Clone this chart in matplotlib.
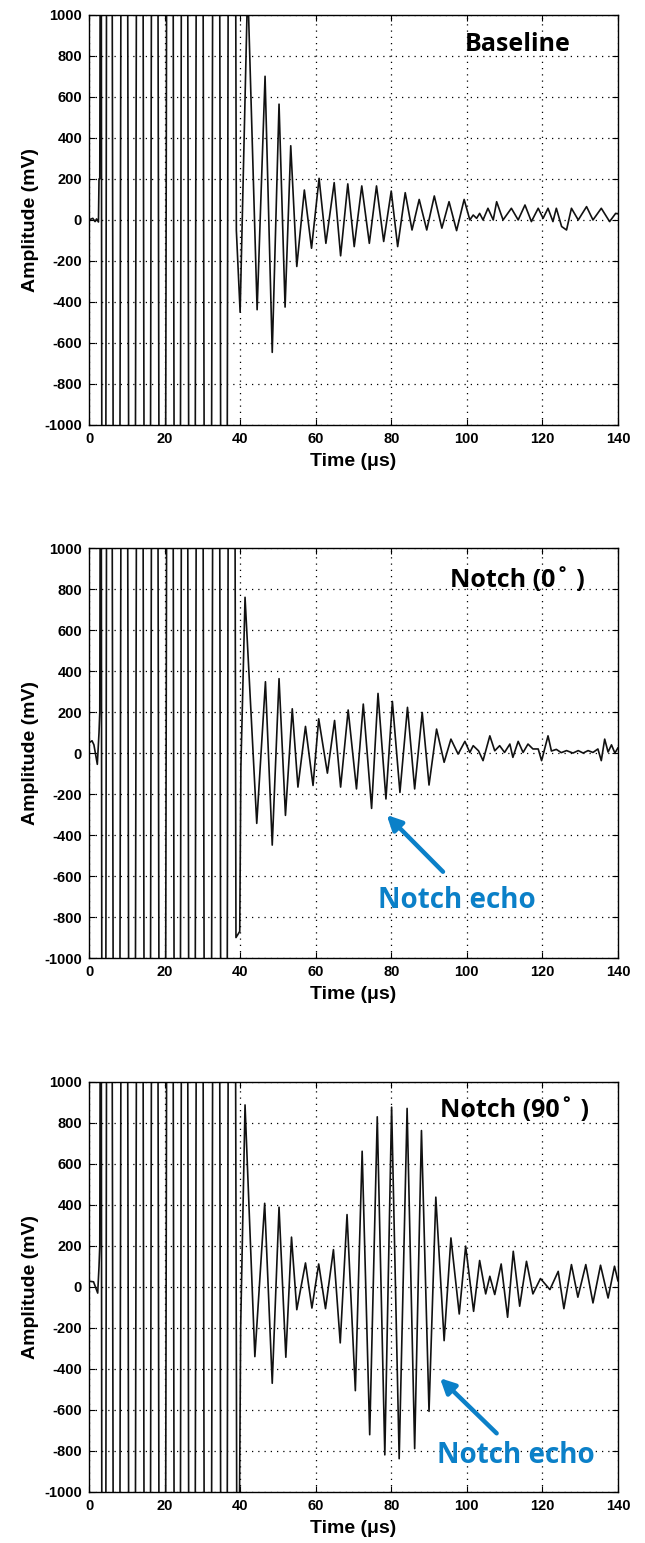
import matplotlib.pyplot as plt

# ---- shared transmit ringing (saturated, runs far past +/-1000 mV) ----
burst_t = [3.15, 3.84, 5.25, 7.28, 9.35, 11.38, 13.45, 15.43, 17.37, 19.4,
           21.43, 23.37, 25.27, 27.25, 29.24, 31.44, 33.73, 35.72, 37.7]
burst_v = [3000, -9000, 9000, -9000, 9000, -9000, 9000, -9000, 9000, -9000,
           9000, -9000, 9000, -9000, 9000, -9000, 9000, -9000, 9000]

# ---- Baseline ----
base_head_t = [0, 1.0, 1.6, 2.0, 2.5, 2.65, 2.85]
base_head_v = [0, 8, -8, 5, -10, 200, 200]
base_tail_t = [39.0, 40.0, 42.0, 44.5, 46.6, 48.5, 50.3, 51.9, 53.4, 55.0,
               57.0, 58.9, 60.9, 62.7, 64.9, 66.6, 68.5, 70.2, 72.2, 74.2,
               76.1, 78.0, 80.0, 81.7, 83.7, 85.5, 87.4, 89.4, 91.4, 93.4,
               95.3, 97.3, 99.3, 100.8, 101.7, 102.6, 103.4, 104.3, 105.6, 107.0,
               107.9, 109.6, 111.8, 113.6, 115.4, 117.1, 118.9, 120.2, 121.5, 122.8,
               123.7, 125.1, 126.4, 127.7, 129.5, 131.7, 133.4, 135.6, 137.8, 139.4,
               140.0]
base_tail_v = [-50, -450, 1150, -438, 701, -646, 565, -425, 362, -227,
               146, -138, 203, -114, 182, -175, 176, -130, 166, -114,
               166, -105, 141, -130, 133, -49, 100, -49, 117, -40,
               89, -52, 100, 0, 24, 8, 32, 0, 57, 0,
               89, 0, 57, 0, 73, -8, 57, 8, 57, -8,
               57, -32, -49, 57, 0, 65, 0, 57, -8, 32,
               30]

# ---- Notch (0 deg) ----
n0_head_t = [0, 0.8, 1.3, 2.2, 2.65, 2.85]
n0_head_v = [50, 60, 40, -55, 100, 200]
n0_tail_t = [38.9, 39.9, 40.2, 41.3, 44.4, 46.7, 48.5, 50.3, 52.0, 53.8,
             55.3, 57.3, 59.3, 60.8, 63.1, 65.0, 66.6, 68.6, 70.8, 72.6,
             74.8, 76.5, 78.6, 80.3, 82.3, 84.3, 86.2, 88.2, 90.0, 92.0,
             94.0, 95.8, 97.7, 99.5, 100.8, 101.7, 103.1, 104.3, 106.1, 107.4,
             108.7, 110.0, 111.4, 112.2, 113.6, 114.9, 116.2, 117.5, 118.9, 119.8,
             121.5, 122.4, 123.7, 125.0, 126.4, 128.1, 129.5, 130.8, 132.1, 133.4,
             134.7, 135.6, 136.5, 137.4, 138.3, 139.2, 140.0]
n0_tail_v = [-900, -870, -70, 760, -343, 348, -449, 363, -304, 216,
             -166, 130, -158, 167, -98, 159, -166, 210, -175, 239,
             -270, 291, -224, 252, -192, 223, -175, 198, -156, 117,
             -45, 68, -5, 57, 3, 36, 11, -37, 84, 11,
             36, 3, 44, -21, 57, 3, 44, 20, 20, -37,
             84, 10, 18, 2, 12, 0, 12, 0, 12, 3,
             20, -37, 68, 5, 40, 0, 25]

# ---- Notch (90 deg) ----
n90_head_t = [0, 1.2, 2.3, 2.65, 2.85]
n90_head_v = [28, 25, -30, 100, 200]
n90_tail_t = [39.3, 40.15, 41.3, 43.9, 46.5, 48.5, 50.3, 52.1, 53.6, 55.0,
              57.3, 59.0, 60.8, 62.6, 64.7, 66.5, 68.3, 70.5, 72.3, 74.3,
              76.3, 78.3, 80.1, 82.1, 84.2, 86.2, 88.0, 90.0, 91.8, 94.0,
              95.8, 98.0, 99.7, 101.8, 103.4, 105.0, 106.1, 107.4, 109.1, 110.8,
              112.3, 114.0, 115.8, 117.5, 119.5, 122.0, 124.2, 125.7, 127.7, 129.4,
              131.5, 133.4, 135.4, 137.4, 139.1, 140.0]
n90_tail_v = [-2500, -190, 888, -340, 408, -470, 389, -343, 243, -111,
              117, -103, 112, -106, 182, -273, 353, -506, 662, -721,
              830, -819, 877, -838, 871, -789, 763, -607, 438, -262,
              239, -132, 199, -119, 129, -34, 52, -37, 112, -148,
              174, -94, 125, -34, 41, -13, 76, -106, 109, -50,
              109, -78, 106, -54, 101, 30]

titles = ['Baseline', 'Notch (0\u02da )', 'Notch (90\u02da )']
title_pos = [(99.5, 858), (95.5, 844), (92.9, 863)]
# arrow (tail, head) and label position for the echo callouts
arrows = [None, ((93.7, -579), (78.8, -302), (76.5, -717)),
          ((107.9, -714), (92.9, -445), (92.0, -820))]

xticks = [0, 20, 40, 60, 80, 100, 120, 140]
yticks = [-1000, -800, -600, -400, -200, 0, 200, 400, 600, 800, 1000]

blue = '#0b80c8'
tick_font = dict(family='Liberation Sans', weight='bold', size=10.5)

records = [(base_head_t + burst_t + base_tail_t, base_head_v + burst_v + base_tail_v),
           (n0_head_t + burst_t + n0_tail_t, n0_head_v + burst_v + n0_tail_v),
           (n90_head_t + burst_t + n90_tail_t, n90_head_v + burst_v + n90_tail_v)]

fig = plt.figure(figsize=(6.45, 15.43), dpi=100)
bottoms = [0.7246, 0.3791, 0.0331]

for i in range(3):
    ax = fig.add_axes([0.138, bottoms[i], 0.820, 0.2657])
    t, v = records[i]
    ax.plot(t, v, color='#111111', lw=1.2)
    ax.set_xlim(0, 140)
    ax.set_ylim(-1000, 1000)
    ax.set_xticks(xticks)
    ax.set_yticks(yticks)
    ax.set_xticklabels([str(x) for x in xticks], fontdict=tick_font)
    ax.set_yticklabels([str(y) for y in yticks], fontdict=tick_font)
    ax.tick_params(direction='in', top=True, right=True, length=4, pad=5)
    ax.grid(True, color='black', linestyle=(0, (1, 4)), lw=0.9)
    for s in ax.spines.values():
        s.set_linewidth(1.0)
    ax.set_xlabel('Time (μs)', fontfamily='Liberation Sans', fontweight='bold',
                  fontsize=14, labelpad=5)
    ax.set_ylabel('Amplitude (mV)', fontfamily='Liberation Sans', fontweight='bold',
                  fontsize=14, labelpad=4)
    ax.text(title_pos[i][0], title_pos[i][1], titles[i],
            fontfamily=['Open Sans', 'DejaVu Sans'],
            fontweight='bold', fontsize=18, va='center', ha='left')
    if arrows[i] is not None:
        tail, head, lab = arrows[i]
        ax.annotate('', xy=head, xytext=tail,
                    arrowprops=dict(arrowstyle='-|>', color=blue, lw=3.2,
                                    mutation_scale=22, shrinkA=0, shrinkB=0))
        ax.text(lab[0], lab[1], 'Notch echo', color=blue, fontfamily='Open Sans',
                fontweight='bold', fontsize=20, va='center', ha='left')

fig.savefig('out.png', dpi=100)
